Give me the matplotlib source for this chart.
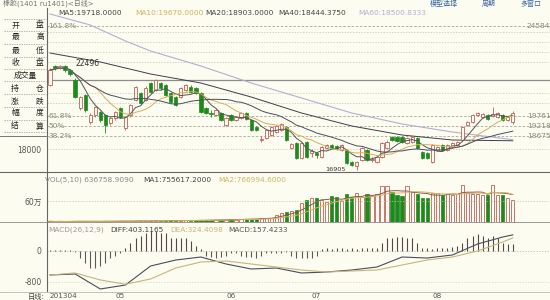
import matplotlib
matplotlib.use('Agg')
import matplotlib.pyplot as plt
import numpy as np
import pandas as pd
from matplotlib.lines import Line2D

plt.rcParams['font.family'] = ['DejaVu Sans', 'Noto Sans CJK SC']

# daily candles of rubber 1401, mid April to late August 2013
opens = [21428, 22444, 22337, 22444, 22230, 21695, 20197, 20893, 19448, 19823,
         19983, 19823, 19395, 19662, 20197, 19127, 19823, 20625, 21000, 20625,
         21535, 21160, 21535, 21428, 21000, 20786, 20786, 21160, 21321, 21267,
         21000, 20197, 19930, 19823, 19930, 19288, 19823, 19555, 19662, 19930,
         19555, 19181, 18485, 18592, 18753, 18913, 19020, 19181, 18057, 18325,
         17522, 18378, 17790, 17790, 17576, 18057, 18218, 18164, 17950, 17950,
         17308, 17094, 17415, 17950, 17415, 17308, 17576, 18057, 18646, 18646,
         18646, 18325, 18378, 18592, 17843, 17790, 17308, 17950, 18218, 17950,
         18111, 18218, 18485, 19288, 19448, 19823, 19716, 19823, 19769, 19716,
         19823, 19555, 19448]
highs = [22337, 22471, 22471, 22496, 22284, 21802, 20839, 20946, 19930, 20304,
         20037, 19876, 19716, 20037, 20251, 19769, 20411, 21374, 21053, 21374,
         21588, 21749, 21588, 21481, 21053, 20839, 21321, 21481, 21428, 21321,
         21053, 20251, 20090, 20144, 19983, 19716, 19876, 19769, 19983, 19983,
         19609, 19234, 18699, 19074, 19234, 19288, 19395, 19234, 18325, 18378,
         18378, 18432, 18004, 17843, 18164, 18271, 18271, 18218, 18271, 18004,
         17362, 17362, 18111, 18004, 17576, 17629, 18378, 18485, 18699, 18699,
         18699, 18646, 18699, 18646, 17897, 17843, 18271, 18164, 18271, 18271,
         18378, 18432, 19234, 19502, 19876, 19983, 19930, 19876, 20251, 19983,
         19876, 19769, 20037]
lows = [21374, 22230, 22284, 22123, 21909, 20732, 20090, 19983, 19341, 19716,
        19448, 18860, 19288, 19555, 19662, 19020, 19716, 20572, 20411, 20572,
        21000, 21107, 21160, 20839, 20465, 20304, 20732, 21107, 21000, 20946,
        19930, 19876, 19716, 19769, 19502, 19234, 19502, 19502, 19609, 19555,
        18967, 18967, 18378, 18539, 18699, 18860, 18967, 18432, 18004, 17469,
        17469, 17522, 17576, 17522, 17522, 18004, 18004, 17950, 17897, 17201,
        17094, 16905, 17362, 17362, 17308, 17255, 17522, 18004, 18432, 18378,
        18325, 18271, 18325, 18004, 17469, 17469, 17255, 17897, 17897, 17897,
        18057, 18164, 18432, 19234, 19395, 19769, 19662, 19555, 19716, 19662,
        19502, 19502, 19341]
closes = [22230, 22337, 22444, 22230, 22016, 20786, 20786, 20090, 19823, 20251,
          19555, 19288, 19662, 19983, 19716, 19716, 20358, 21321, 20465, 21267,
          21053, 21695, 21267, 20893, 20518, 20358, 21267, 21428, 21053, 21000,
          19983, 19930, 19876, 20090, 19555, 19662, 19555, 19716, 19930, 19609,
          19020, 19020, 18539, 19020, 19181, 19234, 19341, 18485, 18271, 17522,
          18325, 17576, 17897, 17683, 18111, 18218, 18057, 18004, 18218, 17255,
          17148, 17308, 18057, 17415, 17469, 17576, 18325, 18378, 18485, 18432,
          18378, 18592, 18646, 18057, 17522, 17522, 18218, 18111, 17950, 18218,
          18325, 18378, 19181, 19448, 19823, 19930, 19876, 19609, 19876, 19930,
          19555, 19716, 19930]
# volume in 万手
volumes = [2, 1, 2, 1, 2, 3, 2, 2, 1, 2,
           2, 3, 2, 2, 3, 3, 2, 4, 3, 3,
           3, 4, 3, 4, 5, 4, 4, 5, 4, 5,
           6, 5, 6, 7, 6, 7, 8, 7, 8, 9,
           9, 10, 11, 12, 12, 20, 26, 28, 31, 33,
           54, 63, 69, 69, 63, 57, 74, 71, 60, 80,
           71, 83, 71, 80, 74, 80, 103, 103, 86, 77,
           74, 103, 86, 80, 69, 69, 83, 83, 77, 80,
           77, 80, 106, 83, 80, 80, 77, 77, 106, 77,
           77, 69, 63.7]

# long averages need history before the window, so read them off the chart
ma40_idx = [0, 10, 20, 30, 40, 50, 60, 70, 80, 92]
ma40 = [23139, 22658, 22016, 21534, 20785, 19929, 19234, 18752, 18485, 18444]
ma60_idx = [0, 8, 15, 20, 30, 40, 50, 60, 70, 80, 92]
ma60 = [25226, 24638, 23782, 23247, 22444, 21534, 20732, 19929, 19341, 18913, 18501]

macd_idx = [0, 5, 10, 15, 20, 25, 30, 35, 40, 45, 50, 55, 60, 65, 70, 75, 80, 85, 90, 92]
diff = [-632, -606, -993, -890, -400, -245, -168, -348, -477, -452,
        -580, -555, -503, -426, -168, -194, -116, 168, 348, 403]
dea = [-632, -580, -760, -870, -735, -452, -297, -271, -348, -426,
       -503, -555, -529, -503, -374, -245, -168, -13, 219, 324]
macd_hist = [20, 15, 25, 20, 15, -30,
             -206, -335, -439, -439, -387, -335, -206, -129, -52,
             77, 181, 310, 387, 464, 516, 516, 464, 439, 310, 310, 310, 310, 258, 129, 26,
             -129, -155, -181, -155, -129, -77, -52, -129, -155, -155, -181, -129, -77, -52,
             -52, -52, -40,
             -129, -181, -206, -206, -181, -129,
             26, 52, 26, 52, 77, 26, 52, 26, 52, 77, 52, 77,
             181, 310, 335, 361, 361, 335, 310, 206,
             77, 52, 26, 52, 52, 77, 103,
             129, 206, 310, 387, 413, 387, 335, 387, 310, 206, 155, 157.4]

month_ticks = [14, 36, 53, 77]
month_labels = ['05', '06', '07', '08']
fib_levels = [24584, 19761, 19218, 18675]
fib_names = ['161.8%', '61.8%', '50%', '38.2%']
guide_levels = [24263, 23728, 23193, 22658, 21000, 20465, 18000]
side_rows = [['开', '盘'], ['最', '高'], ['最', '低'], ['收', '盘'], ['成交量'],
             ['持', '仓'], ['涨', '跌'], ['幅', '度'], ['结', '算']]

bg = '#fcfcf0'
up_c = '#c0605a'
dn_c = '#1e8a1e'
W, H = 550, 300

o = np.array(opens, float)
h = np.array(highs, float)
l = np.array(lows, float)
c = np.array(closes, float)
v = np.array(volumes, float)
n = len(c)
idx = np.arange(n)
up = c >= o


def rect(x0, y0, x1, y1):
    return [x0 / W, 1 - y1 / H, (x1 - x0) / W, (y1 - y0) / H]


def ftext(x, y, s, **kw):
    kw.setdefault('fontsize', 5.3)
    kw.setdefault('va', 'center')
    fig.text(x / W, 1 - y / H, s, **kw)


def fline(x0, x1, y, **kw):
    fig.add_artist(Line2D([x0 / W, x1 / W], [1 - y / H] * 2, transform=fig.transFigure, **kw))


fig = plt.figure(figsize=(5.5, 3.0), dpi=100, facecolor=bg)
ax_p = fig.add_axes(rect(47, 8, 550, 172))
ax_v = fig.add_axes(rect(47, 172, 550, 222))
ax_m = fig.add_axes(rect(47, 222, 550, 291))

x_lo, x_hi = (47 - 50) / 5.03, (550 - 50) / 5.03
for ax in (ax_p, ax_v, ax_m):
    ax.set_facecolor(bg)
    ax.set_xlim(x_lo, x_hi)
    for s in ('top', 'right', 'bottom'):
        ax.spines[s].set_visible(False)
    ax.spines['left'].set_color('#666666')
    ax.spines['left'].set_linewidth(0.8)
    ax.tick_params(length=0, labelsize=5.5, labelcolor='#555555', pad=4)
    ax.set_xticks([])

# price panel
ax_p.set_ylim(25975 - 53.5 * 172, 25975 - 53.5 * 8)
for lv in guide_levels:
    ax_p.axhline(lv, color='#c4c4b4', lw=0.5, ls=(0, (2, 2)), zorder=1)
for lv, nm in zip(fib_levels, fib_names):
    ax_p.axhline(lv, color='#a8a898', lw=0.6, ls=(0, (3, 2)), zorder=1)
    ax_p.text(x_lo + 0.3, lv, nm, fontsize=5.3, color='#8a8a7a', va='center', ha='left')
    ax_p.text(94.8, lv, str(lv), fontsize=5.3, color='#8a8a7a', va='center', ha='left')
ax_p.axhline(25975 - 53.5 * 80, color='#8c8c8c', lw=0.9, zorder=1)
ax_p.set_yticks([18000])
ax_p.set_yticklabels(['18000'])

ax_p.vlines(idx[up], l[up], h[up], color=up_c, lw=0.6, zorder=3)
ax_p.vlines(idx[~up], l[~up], h[~up], color=dn_c, lw=0.6, zorder=3)
body_lo = np.minimum(o, c)
body_h = np.maximum(np.abs(c - o), 30)
ax_p.bar(idx[up], body_h[up], bottom=body_lo[up], width=0.66, facecolor=bg,
         edgecolor=up_c, lw=0.6, zorder=4)
ax_p.bar(idx[~up], body_h[~up], bottom=body_lo[~up], width=0.66, facecolor=dn_c,
         edgecolor=dn_c, lw=0.5, zorder=4)

cs = pd.Series(c)
ax_p.plot(idx, cs.rolling(5, min_periods=1).mean(), color='#555555', lw=0.7, zorder=5)
ax_p.plot(idx, cs.rolling(10, min_periods=1).mean(), color='#d4ae5a', lw=0.7, zorder=5)
ax_p.plot(idx, cs.rolling(20, min_periods=1).mean(), color='#474f60', lw=0.7, zorder=5)
ax_p.plot(ma40_idx, ma40, color='#3e3e4e', lw=0.7, zorder=2)
ax_p.plot(ma60_idx, ma60, color='#b4aed4', lw=0.8, zorder=2)

hi_i = int(np.argmax(h))
lo_i = int(np.argmin(l))
ax_p.text(hi_i + 2, h[hi_i] + 80, f'{h[hi_i]:.0f}', fontsize=5.5, color='#333333', va='center')
ax_p.text(lo_i - 2.3, l[lo_i] - 20, f'{l[lo_i]:.0f}', fontsize=4.6, color='#333333',
          va='center', ha='right')

# volume panel
ax_v.set_ylim(0, 143)
ax_v.axhline(60, color='#c4c4b4', lw=0.5, ls=(0, (2, 2)))
ax_v.bar(idx[up], v[up], width=0.66, facecolor=bg, edgecolor=up_c, lw=0.6)
ax_v.bar(idx[~up], v[~up], width=0.66, facecolor=dn_c, edgecolor=dn_c, lw=0.5)
vs = pd.Series(v)
ax_v.plot(idx, vs.rolling(5, min_periods=1).mean(), color='#8a5a4a', lw=0.7)
ax_v.plot(idx, vs.rolling(10, min_periods=1).mean(), color='#d4b460', lw=0.7)
ax_v.set_yticks([60])
ax_v.set_yticklabels(['60万'])

# MACD panel
ax_m.set_ylim(-(291 - 250.5) * 25.8, (250.5 - 222) * 25.8)
ax_m.axhline(0, color='#b4b4a4', lw=0.5, ls=(0, (2, 2)))
ax_m.axhline(-800, color='#d4d4c4', lw=0.5, ls=(0, (2, 2)))
hist = np.array(macd_hist, float)
ax_m.vlines(idx[hist >= 0], 0, hist[hist >= 0], color='#5a4646', lw=0.8)
ax_m.vlines(idx[hist < 0], 0, hist[hist < 0], color='#5c5c5c', lw=0.8)
ax_m.plot(macd_idx, diff, color='#4c4c5e', lw=0.8)
ax_m.plot(macd_idx, dea, color='#c8b47c', lw=0.8)
ax_m.set_yticks([0, -800])
ax_m.set_yticklabels(['0', '-800'])

# panel separators
fline(0, 550, 172, color='#666666', lw=0.8)
fline(0, 550, 222, color='#888888', lw=0.6)
fline(0, 550, 291.5, color='#aaaaaa', lw=0.5)

# header texts
ftext(3, 3.5, '橡胶(1401 ru1401)<日线>', color='#777777', fontsize=5.0)
ftext(430, 3.5, '模型选择', color='#3a64a0', fontsize=5.0)
ftext(482, 3.5, '周期', color='#3a64a0', fontsize=5.0)
ftext(520, 3.5, '多窗口', color='#3a64a0', fontsize=5.0)
for x, s, col in [(58, 'MA5:19718.0000', '#444444'), (135, 'MA10:19670.0000', '#d4ae5a'),
                  (205, 'MA20:18903.0000', '#444444'), (278, 'MA40:18444.3750', '#444444'),
                  (358, 'MA60:18500.8333', '#b4aed4')]:
    ftext(x, 13, s, color=col)
for x, s, col in [(45, 'VOL(5,10) 636758.9090', '#888888'), (143, 'MA1:755617.2000', '#444444'),
                  (218, 'MA2:766994.6000', '#d4b460')]:
    ftext(x, 180, s, color=col)
for x, s, col in [(48, 'MACD(26,12,9)', '#999999'), (110, 'DIFF:403.1165', '#444444'),
                  (170, 'DEA:324.4098', '#c8b47c'), (228, 'MACD:157.4233', '#555555')]:
    ftext(x, 230, s, color=col)

# sidebar with quote fields
row_y = [25, 37, 50, 63, 75, 88, 101, 113, 126]
for y, row in zip(row_y, side_rows):
    if len(row) == 1:
        ftext(25, y, row[0], ha='center', color='#222222', fontsize=5.6)
    else:
        ftext(15, y, row[0], ha='center', color='#222222', fontsize=5.6)
        ftext(40, y, row[1], ha='center', color='#222222', fontsize=5.6)
for y in [19, 31, 43.5, 56.5, 69, 81, 94.5, 107, 119.5, 132]:
    fline(4, 46, y, color='#999999', lw=0.5, ls=(0, (2, 1.5)))
fline(0, 47, 136, color='#777777', lw=0.7)

# date row
ftext(28, 296, '日线:', color='#444444', fontsize=5.2)
ftext(49, 296, '201304', color='#555555', fontsize=5.2)
for t, lab in zip(month_ticks, month_labels):
    ftext(50 + 5.03 * t, 296, lab, color='#555555', fontsize=5.2, ha='center')

fig.savefig('out.png', dpi=100, facecolor=bg)
